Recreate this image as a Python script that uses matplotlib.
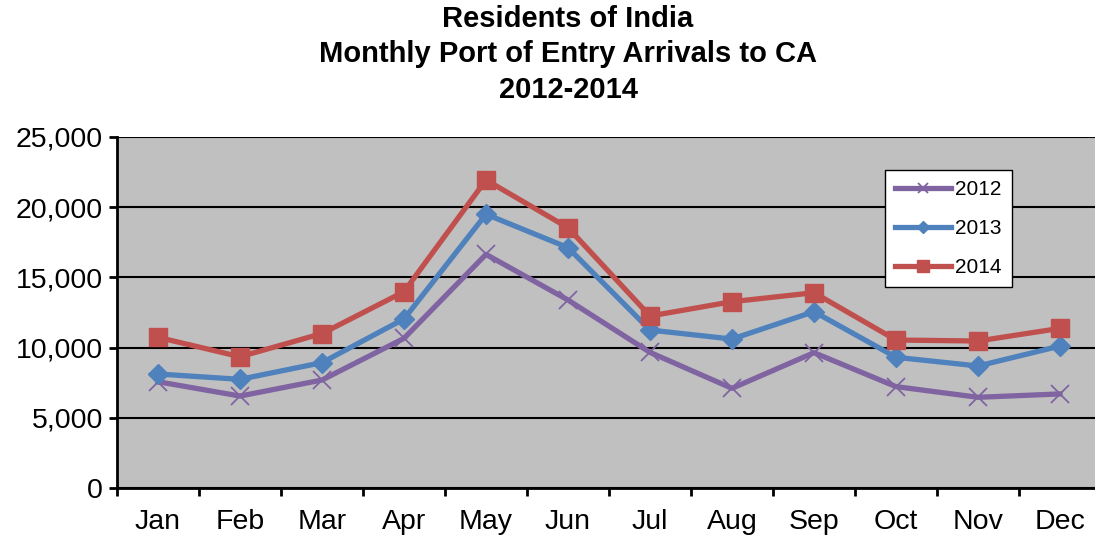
import matplotlib
matplotlib.use("Agg")
import matplotlib.pyplot as plt
import numpy as np

plt.rcParams['font.family'] = ['Liberation Sans', 'DejaVu Sans']

months = ["Jan", "Feb", "Mar", "Apr", "May", "Jun", "Jul", "Aug", "Sep", "Oct", "Nov", "Dec"]
v2012 = [7570, 6550, 7690, 10660, 16640, 13390, 9660, 7100, 9640, 7220, 6460, 6700]
v2013 = [8120, 7740, 8930, 12040, 19500, 17120, 11250, 10610, 12560, 9310, 8690, 10110]
v2014 = [10730, 9350, 11000, 13980, 21940, 18540, 12250, 13270, 13910, 10540, 10470, 11370]
title_lines = ["Residents of India", "Monthly Port of Entry Arrivals to CA", "2012-2014"]

W, H = 1095, 537
fig = plt.figure(figsize=(W / 100, H / 100), dpi=100)
left, right, top, bottom = 117, 1101, 137, 488
ax = fig.add_axes([left / W, 1 - bottom / H, (right - left) / W, (bottom - top) / H])
ax.set_facecolor('#C0C0C0')

x = np.arange(len(months))
ax.plot(x, v2012, color='#8064A2', lw=3.8, marker='x', ms=13, mew=1.3, label='2012', zorder=3)
ax.plot(x, v2013, color='#4F81BD', lw=3.8, marker='D', ms=10, label='2013', zorder=4)
ax.plot(x, v2014, color='#C0504D', lw=3.8, marker='s', ms=13.5, label='2014', zorder=5)

ax.set_xlim(-0.5, 11.5)
ax.set_ylim(0, 25000)
ax.set_yticks(np.arange(0, 25001, 5000))
ax.set_yticklabels([f"{v:,}" for v in range(0, 25001, 5000)])
ax.yaxis.grid(True, color='black', lw=1.5)
ax.set_axisbelow(True)

ax.set_xticks(x)
ax.set_xticklabels(months)
ax.set_xticks(np.arange(-0.5, 12, 1), minor=True)
ax.tick_params(axis='x', which='major', length=0, pad=15, labelsize=20.5)
ax.tick_params(axis='x', which='minor', length=6, width=2, direction='out')
ax.tick_params(axis='y', length=6, width=2, direction='out', pad=4, labelsize=20.5)

for s in ['top', 'right']:
    ax.spines[s].set_visible(False)
for s in ['left', 'bottom']:
    ax.spines[s].set_linewidth(2)
    ax.spines[s].set_color('black')

leg = ax.legend(loc='upper left', bbox_to_anchor=(0.780, 0.906), fontsize=15,
                frameon=True, fancybox=False, framealpha=1, edgecolor='black',
                markerscale=0.6, handlelength=2.7, handletextpad=0.2,
                labelspacing=0.95, borderpad=0.5, borderaxespad=0)
leg.get_frame().set_linewidth(1.0)

fig.text(568 / W, 1 - 5 / H, "\n".join(title_lines), ha='center', va='top',
         fontsize=21, fontweight='bold', linespacing=1.33)

fig.savefig('out.png', dpi=100)
